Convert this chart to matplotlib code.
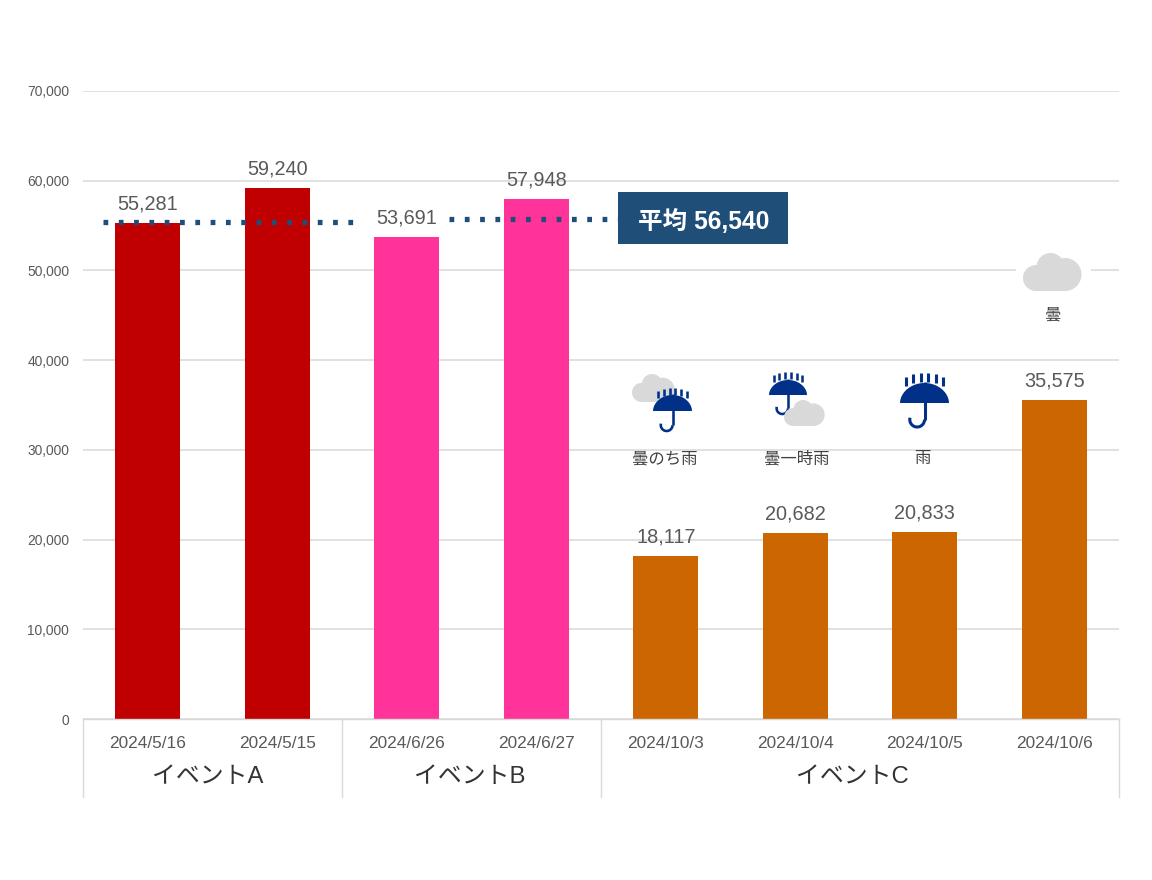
import numpy as np
import matplotlib
matplotlib.use("Agg")
import matplotlib.pyplot as plt
from matplotlib.patches import Ellipse, Rectangle, Polygon, Arc

plt.rcParams['font.family'] = ['Liberation Sans', 'Noto Sans CJK JP', 'DejaVu Sans']

dates = ['2024/5/16', '2024/5/15', '2024/6/26', '2024/6/27',
         '2024/10/3', '2024/10/4', '2024/10/5', '2024/10/6']
visitors = [55281, 59240, 53691, 57948, 18117, 20682, 20833, 35575]
bar_colors = ['#C00000', '#C00000', '#FF3399', '#FF3399',
              '#CC6600', '#CC6600', '#CC6600', '#CC6600']
groups = ['イベントA', 'イベントB', 'イベントC']
group_edges = [-0.5, 1.5, 3.5, 7.5]
avg_label = '平均 56,540'
avg_left = 55450
avg_right = 55700
yticks = [0, 10000, 20000, 30000, 40000, 50000, 60000, 70000]
weather = ['曇のち雨', '曇一時雨', '雨', '曇']

W, H = 1152, 880
GRID = '#D9D9D9'
fig = plt.figure(figsize=(W / 100, H / 100), dpi=100, facecolor='white')
ax = fig.add_axes([83 / W, (H - 719) / H, 1036 / W, 628 / H])
x = np.arange(len(dates))
ax.bar(x, visitors, width=0.5, color=bar_colors, zorder=2)
ax.set_xlim(-0.5, 7.5)
ax.set_ylim(0, 70000)
ax.set_yticks(yticks)
ax.set_yticklabels([f'{v:,}' for v in yticks], fontsize=9.9, color='#595959')
ax.set_xticks(x)
ax.set_xticklabels(dates, fontsize=12.4, color='#595959')
ax.tick_params(axis='both', length=0)
ax.tick_params(axis='y', pad=10)
ax.tick_params(axis='x', pad=12.5)
ax.grid(axis='y', color=GRID, lw=1.1, zorder=0)
ax.set_axisbelow(True)
for s in ['top', 'right', 'left']:
    ax.spines[s].set_visible(False)
ax.spines['bottom'].set_color(GRID)
ax.spines['bottom'].set_linewidth(1.0)

# dotted average line, interrupted at the 53,691 label
dot = dict(color='#1F4E79', lw=3.8, linestyle=(0, (0.9, 2.0)), zorder=3, dash_capstyle='butt')
ax.plot([-0.345, 1.64], [avg_left, avg_left], **dot)
ax.plot([2.33, 4.1], [avg_right, avg_right], **dot)

# value labels
for xi, v in zip(x, visitors):
    ax.annotate(f'{v:,}', (xi, v), xytext=(0, 13.7), textcoords='offset points',
                ha='center', va='center', fontsize=14.3, color='#595959', zorder=4)

# category group separators
tr = ax.get_xaxis_transform()
for e in group_edges:
    ax.plot([e, e], [0, -78 / 628], transform=tr, color=GRID, lw=1.0, clip_on=False)

# pixel-space overlay for group labels, callout and weather icons
ov = fig.add_axes([0, 0, 1, 1], zorder=5)
ov.set_xlim(0, W)
ov.set_ylim(H, 0)
ov.axis('off')
ov.patch.set_alpha(0)

for label, cx in zip(groups, [208, 470, 852]):
    ov.text(cx, 777, label, ha='center', va='center', fontsize=17.2, color='#333333')

ov.add_patch(Rectangle((618, 192.5), 170, 52, color='#1F4E79', lw=0))
ov.text(704, 221.5, avg_label, ha='center', va='center', fontsize=17.7,
        color='white', fontweight='bold')

NAVY = '#003087'
CLOUD = '#D9D9D9'


def cloud(x0, y0, w, h):
    sx, sy = w / 59, h / 38
    parts = [(13, 25, 13), (27.5, 14, 14), (42, 21.5, 16.5)]
    for cx, cy, r in parts:
        ov.add_patch(Ellipse((x0 + cx * sx, y0 + cy * sy), 2 * r * sx, 2 * r * sy,
                             color=CLOUD, lw=0, zorder=3))
    ov.add_patch(Rectangle((x0 + 13 * sx, y0 + 20 * sy), 31 * sx, 18 * sy, color=CLOUD, lw=0, zorder=3))


def umbrella(cx, top, bottom, r, hook_end, t_top, t_len, z=2):
    t = np.linspace(0, np.pi, 40)
    pts = np.c_[cx + r * np.cos(t), bottom - (bottom - top) * np.sin(t) ** 1.05]
    ov.add_patch(Polygon(pts, closed=True, color=NAVY, lw=0, zorder=z))
    lw = r / 24.5 * 1.6 + 0.6
    hr = r * 0.3
    ov.plot([cx, cx], [top - 1, hook_end - hr], color=NAVY, lw=lw, zorder=z, solid_capstyle='butt')
    ov.add_patch(Arc((cx - hr, hook_end - hr), 2 * hr, 2 * hr, theta1=0, theta2=195,
                     color=NAVY, lw=lw, zorder=z))
    for off in np.linspace(-0.76, 0.76, 6):
        yy = t_top + (abs(off) ** 2) * 0.8 * t_len
        ov.plot([cx + off * r] * 2, [yy, yy + t_len], color=NAVY, lw=lw, zorder=z,
                solid_capstyle='butt')


cloud(632, 374, 43, 28)
umbrella(672.5, 395, 411, 19.5, 431, 387.5, 7, z=4)
umbrella(788, 380, 395, 19, 414, 372, 7)
cloud(784, 400, 41, 26)
umbrella(924.5, 383, 403, 24.5, 427, 373, 9)

ov.add_patch(Rectangle((1016, 268), 75, 6, color='white', lw=0, zorder=1))
cloud(1023, 253, 59, 38)

for label, cx, cy in zip(weather, [665, 797, 922, 1053], [459, 459, 459, 315]):
    ov.text(cx, cy, label, ha='center', va='center', fontsize=11.8, color='#404040', zorder=6)

fig.savefig('out.png', dpi=100, facecolor='white')
